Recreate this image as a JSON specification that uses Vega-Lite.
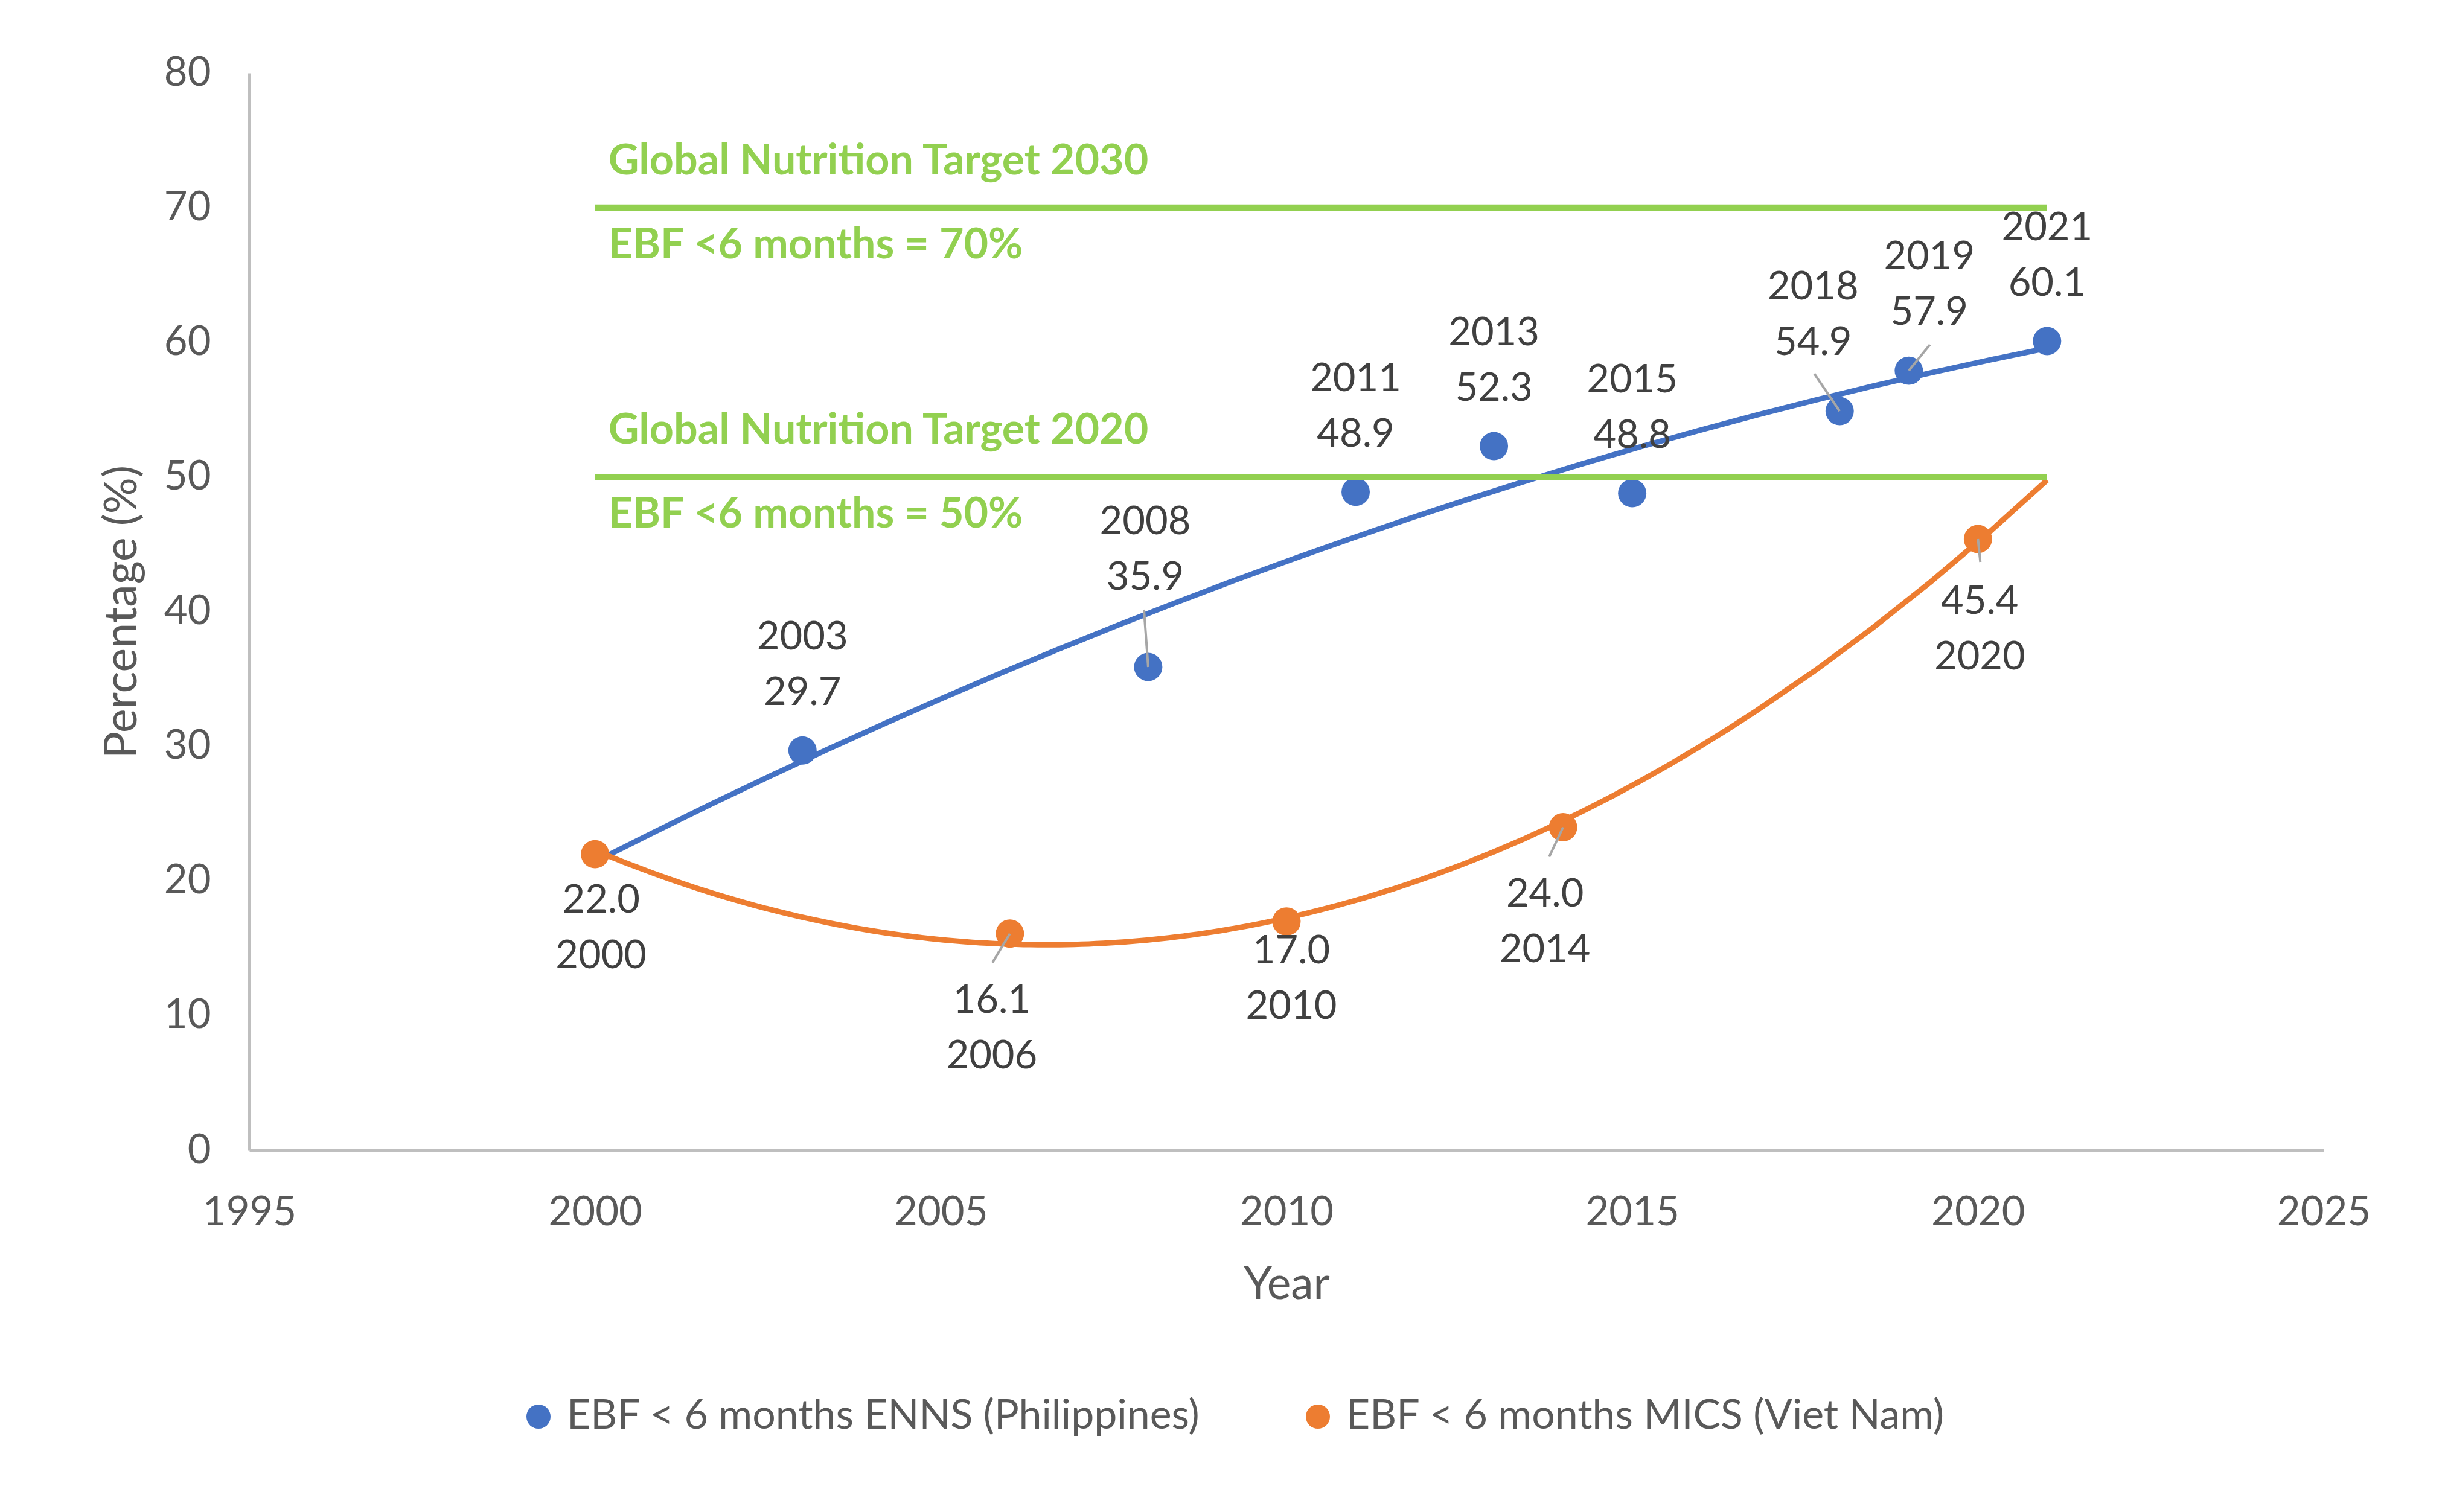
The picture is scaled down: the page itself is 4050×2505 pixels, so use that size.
{
  "$schema": "https://vega.github.io/schema/vega-lite/v6.json",
  "width": 3436,
  "height": 1785,
  "autosize": {"type": "none"},
  "padding": {"left": 413, "top": 121, "right": 201, "bottom": 599},
  "background": "white",
  "datasets": {
    "points": [
      {"series": "EBF < 6 months ENNS (Philippines)", "year": 2003, "value": 29.7, "label": "2003\n29.7"},
      {"series": "EBF < 6 months ENNS (Philippines)", "year": 2008, "value": 35.9, "label": "2008\n35.9"},
      {"series": "EBF < 6 months ENNS (Philippines)", "year": 2011, "value": 48.9, "label": "2011\n48.9"},
      {"series": "EBF < 6 months ENNS (Philippines)", "year": 2013, "value": 52.3, "label": "2013\n52.3"},
      {"series": "EBF < 6 months ENNS (Philippines)", "year": 2015, "value": 48.8, "label": "2015\n48.8"},
      {"series": "EBF < 6 months ENNS (Philippines)", "year": 2018, "value": 54.9, "label": "2018\n54.9"},
      {"series": "EBF < 6 months ENNS (Philippines)", "year": 2019, "value": 57.9, "label": "2019\n57.9"},
      {"series": "EBF < 6 months ENNS (Philippines)", "year": 2021, "value": 60.1, "label": "2021\n60.1"},
      {"series": "EBF < 6 months MICS (Viet Nam)", "year": 2000, "value": 22.0, "label": "22.0\n2000"},
      {"series": "EBF < 6 months MICS (Viet Nam)", "year": 2006, "value": 16.1, "label": "16.1\n2006"},
      {"series": "EBF < 6 months MICS (Viet Nam)", "year": 2010, "value": 17.0, "label": "17.0\n2010"},
      {"series": "EBF < 6 months MICS (Viet Nam)", "year": 2014, "value": 24.0, "label": "24.0\n2014"},
      {"series": "EBF < 6 months MICS (Viet Nam)", "year": 2020, "value": 45.4, "label": "45.4\n2020"}
    ],
    "targets": [
      {"year": 2000, "year2": 2021, "value": 70, "title": "Global Nutrition Target 2030", "subtitle": "EBF <6 months = 70%"},
      {"year": 2000, "year2": 2021, "value": 50, "title": "Global Nutrition Target 2020", "subtitle": "EBF <6 months = 50%"}
    ]
  },
  "encoding": {
    "x": {
      "field": "year",
      "type": "quantitative",
      "scale": {"domain": [1995, 2025], "nice": false, "zero": false},
      "axis": {"values": [1995, 2000, 2005, 2010, 2015, 2020, 2025], "format": "d", "title": "Year"}
    },
    "y": {
      "field": "value",
      "type": "quantitative",
      "scale": {"domain": [0, 80], "nice": false},
      "axis": {"values": [0, 10, 20, 30, 40, 50, 60, 70, 80], "title": "Percentage (%)"}
    }
  },
  "layer": [
    {
      "data": {"name": "points"},
      "transform": [
        {"filter": "datum.series == 'EBF < 6 months ENNS (Philippines)'"},
        {"regression": "value", "on": "year", "method": "poly", "order": 2, "extent": [2000, 2021]}
      ],
      "mark": {"type": "line", "color": "#4472C4", "strokeWidth": 9},
      "encoding": {}
    },
    {
      "data": {"name": "points"},
      "transform": [
        {"filter": "datum.series == 'EBF < 6 months MICS (Viet Nam)'"},
        {"regression": "value", "on": "year", "method": "poly", "order": 2, "extent": [2000, 2021]}
      ],
      "mark": {"type": "line", "color": "#ED7D31", "strokeWidth": 9},
      "encoding": {}
    },
    {
      "data": {"name": "points"},
      "mark": {"type": "circle", "size": 2200, "opacity": 1},
      "encoding": {
        "color": {
          "field": "series",
          "type": "nominal",
          "scale": {
            "domain": ["EBF < 6 months ENNS (Philippines)", "EBF < 6 months MICS (Viet Nam)"],
            "range": ["#4472C4", "#ED7D31"]
          },
          "legend": {
            "orient": "none",
            "legendX": 445,
            "legendY": 2192,
            "direction": "horizontal",
            "title": null,
            "symbolType": "circle",
            "symbolSize": 1600,
            "symbolStrokeWidth": 0,
            "symbolOpacity": 1,
            "labelFont": "Lato",
            "labelFontSize": 68,
            "labelColor": "#595959",
            "labelOffset": 13,
            "labelLimit": 0,
            "columnPadding": 160
          }
        }
      }
    },
    {
      "data": {"name": "points"},
      "transform": [{"filter": "datum.year == 2008"}],
      "mark": {"type": "rule", "color": "#A6A6A6", "strokeWidth": 4, "x2Offset": -7, "y2Offset": -95},
      "encoding": {"x2": {"field": "year"}, "y2": {"field": "value"}}
    },
    {
      "data": {"name": "points"},
      "transform": [{"filter": "datum.year == 2018"}],
      "mark": {"type": "rule", "color": "#A6A6A6", "strokeWidth": 4, "x2Offset": -42, "y2Offset": -62},
      "encoding": {"x2": {"field": "year"}, "y2": {"field": "value"}}
    },
    {
      "data": {"name": "points"},
      "transform": [{"filter": "datum.year == 2019"}],
      "mark": {"type": "rule", "color": "#A6A6A6", "strokeWidth": 4, "x2Offset": 35, "y2Offset": -43},
      "encoding": {"x2": {"field": "year"}, "y2": {"field": "value"}}
    },
    {
      "data": {"name": "points"},
      "transform": [{"filter": "datum.year == 2006"}],
      "mark": {"type": "rule", "color": "#A6A6A6", "strokeWidth": 4, "x2Offset": -29, "y2Offset": 48},
      "encoding": {"x2": {"field": "year"}, "y2": {"field": "value"}}
    },
    {
      "data": {"name": "points"},
      "transform": [{"filter": "datum.year == 2014"}],
      "mark": {"type": "rule", "color": "#A6A6A6", "strokeWidth": 4, "x2Offset": -23, "y2Offset": 49},
      "encoding": {"x2": {"field": "year"}, "y2": {"field": "value"}}
    },
    {
      "data": {"name": "points"},
      "transform": [{"filter": "datum.year == 2020"}],
      "mark": {"type": "rule", "color": "#A6A6A6", "strokeWidth": 4, "x2Offset": 4, "y2Offset": 38},
      "encoding": {"x2": {"field": "year"}, "y2": {"field": "value"}}
    },
    {
      "data": {"name": "points"},
      "transform": [{"filter": "indexof([2003, 2011, 2013, 2015, 2021], datum.year) >= 0"}],
      "mark": {"type": "text", "font": "Lato", "fontSize": 65, "color": "#404040", "lineBreak": "\n", "lineHeight": 92, "baseline": "middle", "dy": -187},
      "encoding": {"text": {"field": "label"}}
    },
    {
      "data": {"name": "points"},
      "transform": [{"filter": "datum.year == 2008"}],
      "mark": {"type": "text", "font": "Lato", "fontSize": 65, "color": "#404040", "lineBreak": "\n", "lineHeight": 92, "baseline": "middle", "dx": -5, "dy": -240},
      "encoding": {"text": {"field": "label"}}
    },
    {
      "data": {"name": "points"},
      "transform": [{"filter": "datum.year == 2018"}],
      "mark": {"type": "text", "font": "Lato", "fontSize": 65, "color": "#404040", "lineBreak": "\n", "lineHeight": 92, "baseline": "middle", "dx": -44, "dy": -205},
      "encoding": {"text": {"field": "label"}}
    },
    {
      "data": {"name": "points"},
      "transform": [{"filter": "datum.year == 2019"}],
      "mark": {"type": "text", "font": "Lato", "fontSize": 65, "color": "#404040", "lineBreak": "\n", "lineHeight": 92, "baseline": "middle", "dx": 34, "dy": -188},
      "encoding": {"text": {"field": "label"}}
    },
    {
      "data": {"name": "points"},
      "transform": [{"filter": "datum.year == 2000"}],
      "mark": {"type": "text", "font": "Lato", "fontSize": 65, "color": "#404040", "lineBreak": "\n", "lineHeight": 92, "baseline": "middle", "dx": 10, "dy": 77},
      "encoding": {"text": {"field": "label"}}
    },
    {
      "data": {"name": "points"},
      "transform": [{"filter": "datum.year == 2006 || datum.year == 2014"}],
      "mark": {"type": "text", "font": "Lato", "fontSize": 65, "color": "#404040", "lineBreak": "\n", "lineHeight": 92, "baseline": "middle", "dx": -30, "dy": 111},
      "encoding": {"text": {"field": "label"}}
    },
    {
      "data": {"name": "points"},
      "transform": [{"filter": "datum.year == 2010"}],
      "mark": {"type": "text", "font": "Lato", "fontSize": 65, "color": "#404040", "lineBreak": "\n", "lineHeight": 92, "baseline": "middle", "dx": 8, "dy": 49},
      "encoding": {"text": {"field": "label"}}
    },
    {
      "data": {"name": "points"},
      "transform": [{"filter": "datum.year == 2020"}],
      "mark": {"type": "text", "font": "Lato", "fontSize": 65, "color": "#404040", "lineBreak": "\n", "lineHeight": 92, "baseline": "middle", "dx": 3, "dy": 104},
      "encoding": {"text": {"field": "label"}}
    },
    {
      "data": {"name": "targets"},
      "mark": {"type": "rule", "color": "#92D050", "strokeWidth": 11},
      "encoding": {"x2": {"field": "year2"}}
    },
    {
      "data": {"name": "targets"},
      "mark": {"type": "text", "font": "Lato", "fontSize": 70, "fontWeight": "bold", "color": "#92D050", "align": "left", "baseline": "middle", "dx": 22, "dy": -76},
      "encoding": {"text": {"field": "title"}}
    },
    {
      "data": {"name": "targets"},
      "mark": {"type": "text", "font": "Lato", "fontSize": 70, "fontWeight": "bold", "color": "#92D050", "align": "left", "baseline": "middle", "dx": 22, "dy": 63},
      "encoding": {"text": {"field": "subtitle"}}
    }
  ],
  "config": {
    "view": {"stroke": null},
    "font": "Lato",
    "axis": {
      "domainColor": "#BFBFBF",
      "domainWidth": 5,
      "ticks": false,
      "grid": false,
      "labelFont": "Lato",
      "labelFontSize": 67,
      "labelColor": "#595959",
      "labelFlush": false,
      "labelOverlap": false,
      "titleFont": "Lato",
      "titleFontSize": 75,
      "titleFontWeight": "normal",
      "titleColor": "#595959"
    },
    "axisY": {"labelPadding": 64, "titlePadding": 30},
    "axisX": {"labelPadding": 70, "titlePadding": 50}
  }
}
